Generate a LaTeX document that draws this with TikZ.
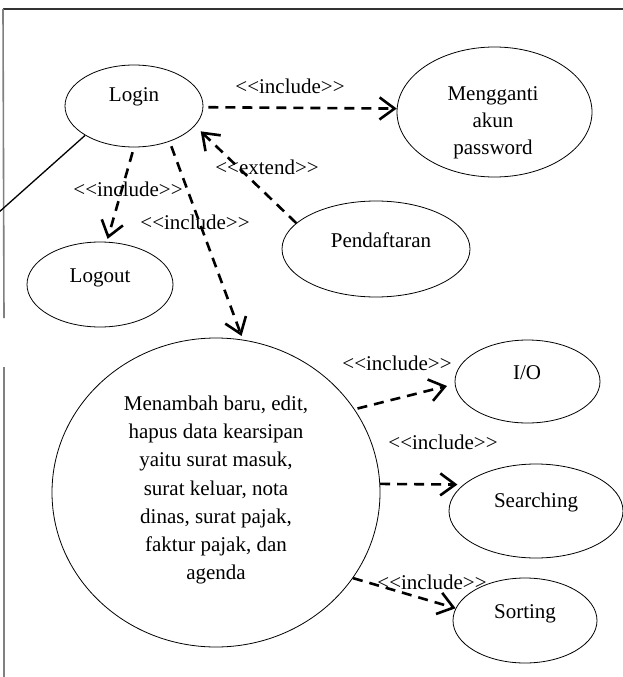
\documentclass[tikz,border=0pt]{standalone}
\usepackage{fontspec}
\setmainfont{Liberation Serif}
\usetikzlibrary{shapes.geometric,arrows.meta}
% stereotype text; the kerns keep << and >> from turning into guillemets
\newcommand{\stereo}[1]{<\kern0pt<#1>\kern0pt>}
\begin{document}
\begin{tikzpicture}[x=1pt,y=-1pt,
  uc/.style={ellipse, draw, line width=0.8pt, inner sep=0pt},
  txt/.style={font=\fontsize{21}{27}\selectfont, align=center, inner sep=0pt},
  lbl/.style={font=\fontsize{21}{27}\selectfont, inner sep=0pt},
  dep/.style={draw, line width=2.6pt, dash pattern=on 10pt off 7pt,
              -{Straight Barb[length=15pt,width=22pt]}},
  frame/.style={line width=1.6pt},
]
\useasboundingbox (0,0) rectangle (623,677);

% frame fragments
\coordinate (f1) at (3,9);
\coordinate (f2) at (623,9);
\coordinate (f3) at (4,318);
\coordinate (f4) at (4,367);
\coordinate (f5) at (4,677);
\draw[frame, black!80] (f1) -- (f2);
\draw[frame, black!50] (f1) -- (f3);
\draw[frame, black!50] (f4) -- (f5);

% use cases
\node[uc, minimum width=138, minimum height=82]  (login)  at (134,106) {};
\node[uc, minimum width=195, minimum height=130] (meng)   at (494.5,112) {};
\node[uc, minimum width=146, minimum height=85]  (logout) at (100,284.5) {};
\node[uc, minimum width=188, minimum height=96]  (pend)   at (376,249) {};
\node[uc, minimum width=328, minimum height=309] (main)   at (216,492.5) {};
\node[uc, minimum width=145, minimum height=83]  (io)     at (527.5,381.5) {};
\node[uc, minimum width=174, minimum height=94]  (search) at (536,511) {};
\node[uc, minimum width=144, minimum height=85]  (sort)   at (525,620.5) {};

% use case names
\node[txt] (tlogin)  at (134,97)  {Login};
\node[txt] (tmeng)   at (493,123) {Mengganti\\akun\\password};
\node[txt] (tlogout) at (100,278) {Logout};
\node[txt] (tpend)   at (381,240) {Pendaftaran};
\node[txt, font=\fontsize{21}{28.2}\selectfont] (tmain) at (216,490)
  {Menambah baru, edit,\\hapus data kearsipan\\yaitu surat masuk,\\surat keluar, nota\\dinas, surat pajak,\\faktur pajak, dan\\agenda};
\node[txt] (tio)     at (527,373) {I/O};
\node[txt] (tsearch) at (536,502) {Searching};
\node[txt] (tsort)   at (525,614) {Sorting};

% actor association
\coordinate (actor) at (-2,213);
\draw[line width=1.3pt] (login.211) -- (actor);

% relationships
\draw[dep, shorten <=5pt] (login.-1) -- (meng.178);
\draw[dep, shorten <=5pt, shorten >=3pt] (login.south) -- (logout.81);
\draw[dep, shorten <=5pt, shorten >=4pt] (login.-45.7) -- (main.80.3);
\draw[dep, shorten >=8pt] (pend.162) -- (login.-18);
\draw[dep, shorten <=3pt, shorten >=8pt] (main.31.5) -- (io.182.5);
\draw[dep, shorten >=6pt] (main.3.3) -- (search.160);
\draw[dep] (main.-32) -- (sort.170);

% relationship labels
\node[lbl] (l1) at (290,86)  {\stereo{include}};
\node[lbl] (l2) at (128,189) {\stereo{include}};
\node[lbl] (l3) at (195,222) {\stereo{include}};
\node[lbl] (l4) at (267,167) {\stereo{extend}};
\node[lbl] (l5) at (397,363) {\stereo{include}};
\node[lbl] (l6) at (443,442) {\stereo{include}};
\node[lbl] (l7) at (432,582) {\stereo{include}};
\end{tikzpicture}
\end{document}
